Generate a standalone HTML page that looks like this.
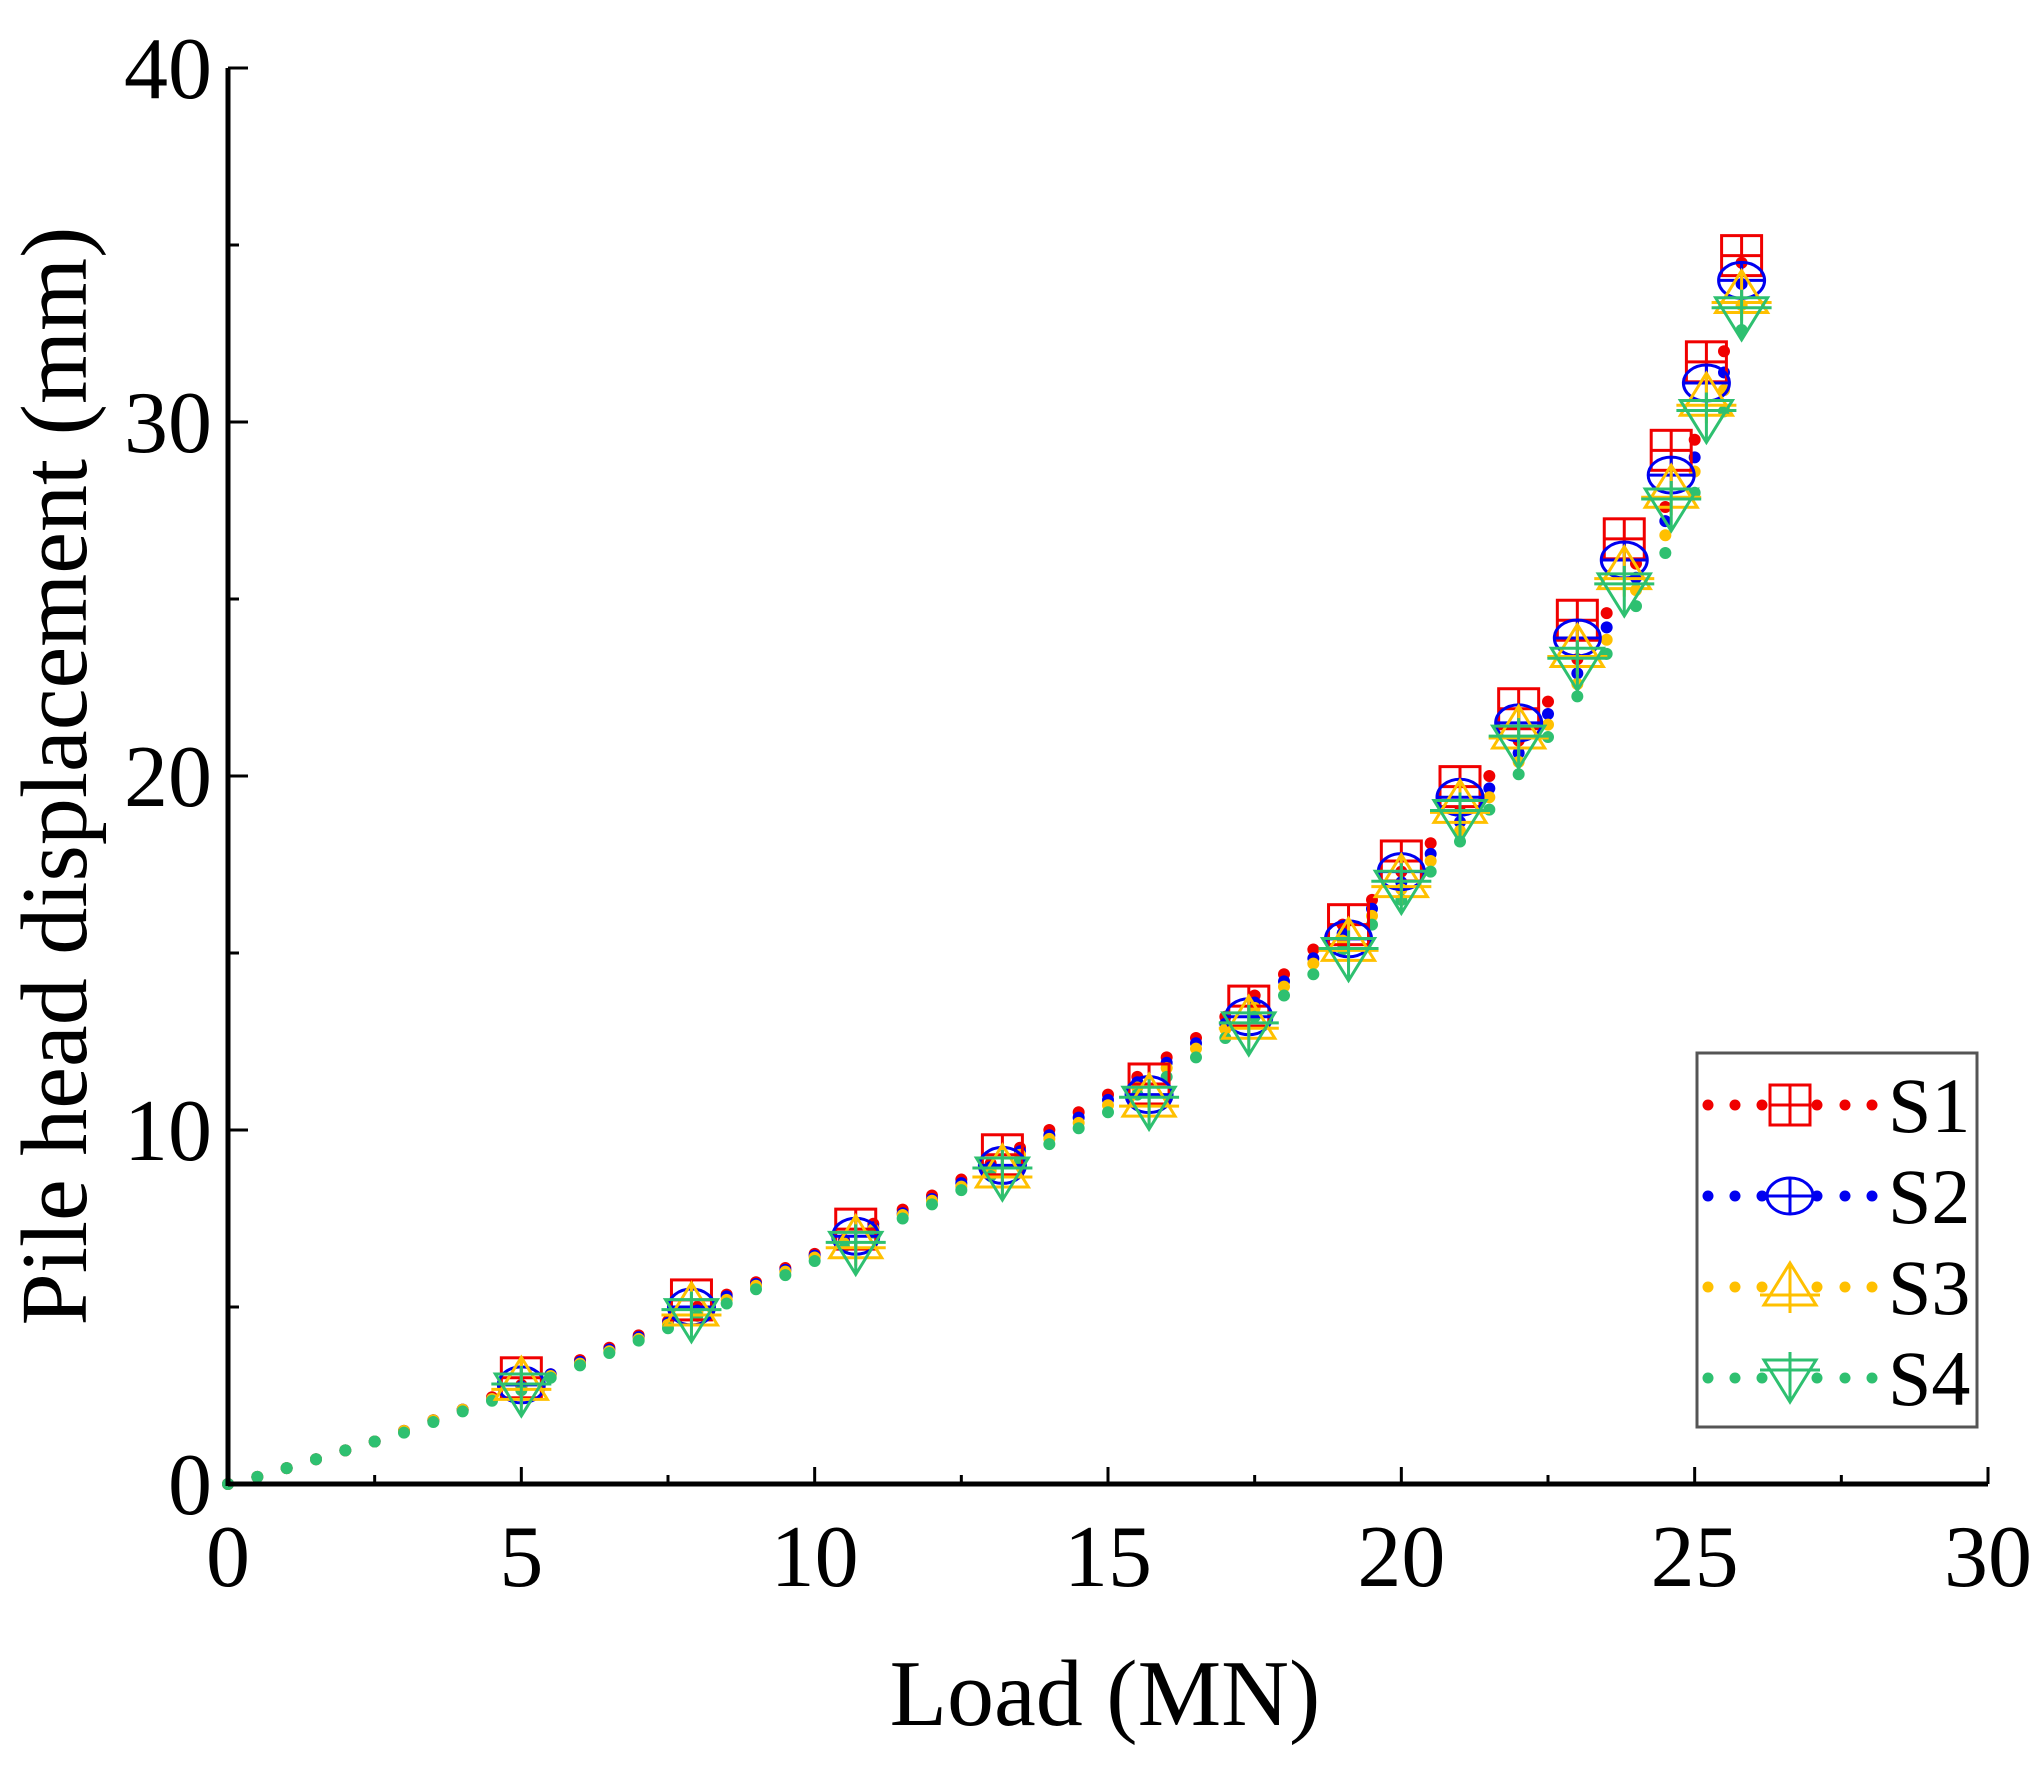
<!DOCTYPE html>
<html><head><meta charset="utf-8"><style>
html,body{margin:0;padding:0;background:#fff;}
svg{display:block;font-family:"Liberation Serif",serif;}
</style></head><body>
<svg id="chart" width="2044" height="1775" viewBox="0 0 2044 1775">
<g id="plot"></g>
<g id="axes"></g>
<g id="legend"></g>
</svg>
<script>
const loads = [0,0.5,1,1.5,2,2.5,3,3.5,4,4.5,5,5.5,6,6.5,7,7.5,8,8.5,9,9.5,10,10.5,11,11.5,12,12.5,13,13.5,14,14.5,15,15.5,16,16.5,17,17.5,18,18.5,19,19.5,20,20.5,21,21.5,22,22.5,23,23.5,24,24.5,25,25.5,25.8];
const s1Dots = [0,0.2,0.45,0.7,0.95,1.2,1.5,1.8,2.1,2.45,2.8,3.1,3.5,3.85,4.2,4.6,5.0,5.35,5.7,6.1,6.5,6.9,7.35,7.75,8.15,8.6,9.05,9.5,10.0,10.5,11.0,11.5,12.05,12.6,13.2,13.8,14.4,15.1,15.8,16.5,17.3,18.1,19.0,20.0,21.0,22.1,23.3,24.6,26.0,27.6,29.5,32.0,34.5];
const s2Dots = [0,0.2,0.45,0.7,0.95,1.2,1.5,1.8,2.1,2.4,2.75,3.1,3.45,3.8,4.15,4.55,4.9,5.3,5.65,6.05,6.45,6.85,7.25,7.65,8.05,8.5,8.95,9.4,9.85,10.35,10.85,11.35,11.9,12.45,13.0,13.6,14.2,14.85,15.55,16.25,17.0,17.8,18.7,19.65,20.65,21.75,22.9,24.2,25.6,27.2,29.0,31.4,33.9];
const s3Dots = [0,0.2,0.45,0.7,0.95,1.2,1.5,1.8,2.1,2.4,2.7,3.05,3.4,3.75,4.1,4.5,4.85,5.2,5.6,6.0,6.4,6.8,7.2,7.6,8.0,8.4,8.85,9.3,9.75,10.2,10.7,11.2,11.75,12.3,12.85,13.45,14.05,14.7,15.35,16.05,16.8,17.6,18.45,19.4,20.4,21.45,22.6,23.85,25.25,26.8,28.6,30.9,33.3];
const s4Dots = [0,0.2,0.45,0.7,0.95,1.2,1.45,1.75,2.05,2.35,2.65,3.0,3.35,3.7,4.05,4.4,4.75,5.1,5.5,5.9,6.3,6.7,7.1,7.5,7.9,8.3,8.7,9.15,9.6,10.05,10.5,11.0,11.5,12.05,12.6,13.2,13.8,14.4,15.1,15.8,16.5,17.3,18.15,19.05,20.05,21.1,22.25,23.45,24.8,26.3,28.0,30.3,32.6];
const markLoads = [5.0,7.9,10.7,13.2,15.7,17.4,19.1,20.0,21.0,22.0,23.0,23.8,24.6,25.2,25.8];
const s1Marks = [3.0,5.2,7.2,9.3,11.3,13.5,15.8,17.6,19.7,21.9,24.4,26.7,29.2,31.7,34.7];
const s2Marks = [2.8,5.0,7.0,9.0,11.0,13.2,15.4,17.3,19.4,21.5,23.9,26.1,28.5,31.1,34.0];
const s3Marks = [2.9,5.0,6.9,8.9,10.9,13.1,15.3,17.1,19.2,21.3,23.6,25.8,28.1,30.7,33.6];
const s4Marks = [2.6,4.7,6.6,8.7,10.7,12.8,14.9,16.8,18.8,20.9,23.1,25.2,27.6,30.1,33.0];
const seriesNames = ["S1","S2","S3","S4"];
const xTicks = [0,5,10,15,20,25,30];
const yTicks = [0,10,20,30,40];

const NS="http://www.w3.org/2000/svg";
const X0=228,X1=1988,Y0=1484,Y1=68;
const xs=v=>X0+(v-0)/(30-0)*(X1-X0);
const ys=v=>Y0-(v-0)/(40-0)*(Y0-Y1);
function mk(tag,attrs,parent){const e=document.createElementNS(NS,tag);for(const k in attrs)e.setAttribute(k,attrs[k]);parent.appendChild(e);return e;}
const plot=document.getElementById('plot'),axes=document.getElementById('axes'),legend=document.getElementById('legend');
const colors=["#f00000","#0000f0","#ffc000","#2ec070"];
const dotsArr=[s1Dots,s2Dots,s3Dots,s4Dots];
const marksArr=[s1Marks,s2Marks,s3Marks,s4Marks];

function marker(kind,cx,cy,col,parent){
  const g=mk('g',{fill:'none',stroke:col,'stroke-width':3},parent);
  const h=20;
  if(kind===0){mk('rect',{x:cx-h,y:cy-h,width:2*h,height:2*h},g);mk('path',{d:`M${cx-h} ${cy}H${cx+h}M${cx} ${cy-h}V${cy+h}`},g);}
  else if(kind===1){mk('ellipse',{cx:cx,cy:cy,rx:23,ry:18},g);mk('path',{d:`M${cx-23} ${cy}H${cx+23}M${cx} ${cy-18}V${cy+18}`},g);}
  else if(kind===2){mk('path',{d:`M${cx} ${cy-24}L${cx+26} ${cy+18}L${cx-26} ${cy+18}Z M${cx-30} ${cy+8}H${cx+30}M${cx} ${cy-24}V${cy+26}`},g);}
  else {mk('path',{d:`M${cx} ${cy+24}L${cx+26} ${cy-18}L${cx-26} ${cy-18}Z M${cx-30} ${cy-8}H${cx+30}M${cx} ${cy-26}V${cy+24}`},g);}
  return g;
}

for(let s=0;s<4;s++){
  const g=mk('g',{},plot);
  
  
  for(let i=0;i<loads.length;i++){
    const c=mk('circle',{cx:xs(loads[i]),cy:ys(dotsArr[s][i]),r:6,fill:colors[s]},g);
    
    
  }
}
for(let s=0;s<4;s++){
  for(let i=0;i<markLoads.length;i++){
    const m=marker(s,xs(markLoads[i]),ys(marksArr[s][i]),colors[s],plot);
    
    
  }
}
// axes
mk('line',{x1:X0,y1:Y0,x2:X1,y2:Y0,stroke:'#000','stroke-width':5},axes);
mk('line',{x1:X0,y1:Y0+2,x2:X0,y2:Y1,stroke:'#000','stroke-width':5},axes);
xTicks.forEach((t,i)=>{
  mk('line',{x1:xs(t),y1:Y0,x2:xs(t),y2:Y0-17,stroke:'#000','stroke-width':3},axes);
  if(i<xTicks.length-1)mk('line',{x1:xs(t+2.5),y1:Y0,x2:xs(t+2.5),y2:Y0-9,stroke:'#000','stroke-width':3},axes);
  const tx=mk('text',{x:xs(t),y:Y0+102,'font-size':88,'text-anchor':'middle'},axes);tx.textContent=t;
  
});
yTicks.forEach((t,i)=>{
  mk('line',{x1:X0,y1:ys(t),x2:X0+20,y2:ys(t),stroke:'#000','stroke-width':3},axes);
  if(i<yTicks.length-1)mk('line',{x1:X0,y1:ys(t+5),x2:X0+11,y2:ys(t+5),stroke:'#000','stroke-width':3},axes);
  const tx=mk('text',{x:X0-16,y:ys(t)+30,'font-size':88,'text-anchor':'end'},axes);tx.textContent=t;
  
});
const xt=mk('text',{x:1105,y:1725,'font-size':94,'text-anchor':'middle'},axes);xt.textContent='Load (MN)';

const yt=mk('text',{x:0,y:0,'font-size':94,'text-anchor':'middle',transform:'translate(86,776) rotate(-90)'},axes);yt.textContent='Pile head displacement (mm)';

// legend
mk('rect',{x:1697,y:1053,width:280,height:374,fill:'#fff',stroke:'#555','stroke-width':3},legend);
const rows=[1105,1196,1287,1378];
for(let s=0;s<4;s++){
  const g=mk('g',{},legend);
  
  
  [1708,1735,1762,1817,1845,1872].forEach(x=>mk('circle',{cx:x,cy:rows[s],r:5.5,fill:colors[s]},g));
  marker(s,1790,rows[s],colors[s],g);
  const t=mk('text',{x:1888,y:rows[s]+27,'font-size':78},g);t.textContent=seriesNames[s];
}
</script>
</body></html>
